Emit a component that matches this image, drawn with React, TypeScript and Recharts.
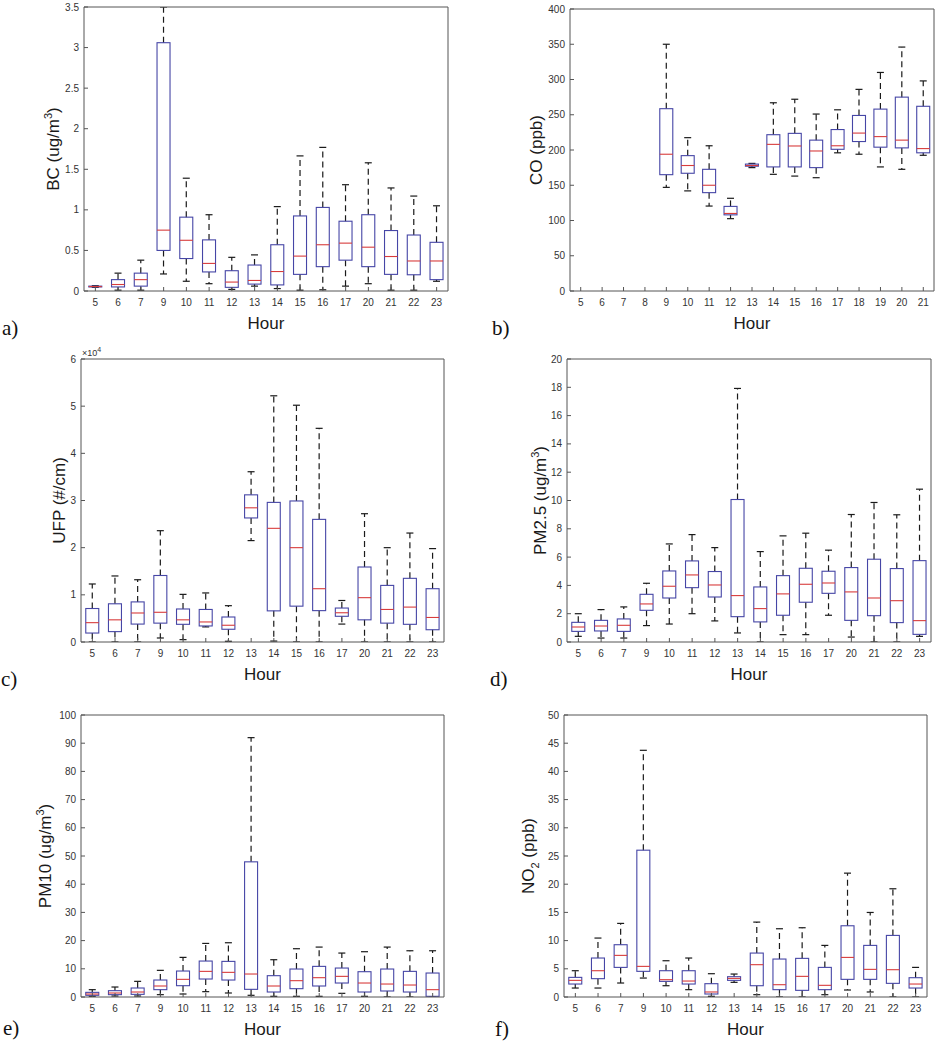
import { Bar, BarChart, XAxis, YAxis } from "recharts";

// hours shared by panels a, c, d, e, f
const hours = [5, 6, 7, 9, 10, 11, 12, 13, 14, 15, 16, 17, 20, 21, 22, 23];
const coHours = [5, 6, 7, 8, 9, 10, 11, 12, 13, 14, 15, 16, 17, 18, 19, 20, 21];

// a) BC
const bcMin = [0.045, 0.01, 0.01, 0.21, 0.12, 0.09, 0.02, 0.06, 0.03, 0.01, 0.015, 0.06, 0.09, 0.01, 0.01, 0.12];
const bcQ1 = [0.05, 0.05, 0.06, 0.5, 0.4, 0.235, 0.045, 0.085, 0.075, 0.205, 0.3, 0.38, 0.3, 0.205, 0.2, 0.14];
const bcMed = [0.055, 0.08, 0.14, 0.75, 0.625, 0.34, 0.11, 0.13, 0.24, 0.43, 0.57, 0.59, 0.54, 0.425, 0.37, 0.37];
const bcQ3 = [0.06, 0.14, 0.22, 3.06, 0.91, 0.63, 0.25, 0.32, 0.57, 0.925, 1.03, 0.86, 0.94, 0.745, 0.69, 0.6];
const bcMax = [0.065, 0.22, 0.38, 3.5, 1.39, 0.94, 0.415, 0.445, 1.04, 1.665, 1.77, 1.31, 1.58, 1.27, 1.17, 1.05];
const bcTicks = [0, 0.5, 1, 1.5, 2, 2.5, 3, 3.5];

// b) CO (no data 5-8)
const coMin = [null, null, null, null, 147, 142, 120.5, 102.6, 175, 165.5, 163, 160.7, 196, 194, 176, 172.6, 192.5];
const coQ1 = [null, null, null, null, 165, 167, 139.5, 108, 177, 176, 176, 175, 201, 212, 204, 203, 196];
const coMed = [null, null, null, null, 194, 178, 150, 110, 178, 208, 205.7, 198.6, 206, 224, 219, 214, 202];
const coQ3 = [null, null, null, null, 258.6, 192, 172.6, 120, 180, 221.7, 223.6, 214, 229, 249, 258, 275, 262];
const coMax = [null, null, null, null, 350, 217.5, 206, 131.5, 181, 267, 272, 251, 257, 286, 310, 346, 298];
const coTicks = [0, 50, 100, 150, 200, 250, 300, 350, 400];

// c) UFP
const ufpMin = [0, 0, 0, 850, 500, 3200, 150, 21500, 200, 0, 0, 3800, 0, 0, 0, 0];
const ufpQ1 = [1900, 2200, 3800, 4000, 3750, 3400, 2700, 26300, 6600, 7600, 6650, 5450, 4700, 4000, 3750, 2600];
const ufpMed = [4100, 4700, 6150, 6300, 4700, 4250, 3550, 28450, 24100, 20000, 11300, 6200, 9400, 6900, 7400, 5200];
const ufpQ3 = [7100, 8100, 8500, 14100, 7000, 6900, 5300, 31200, 29600, 29900, 26000, 7200, 15900, 12000, 13500, 11300];
const ufpMax = [12300, 14000, 13200, 23600, 10100, 10400, 7700, 36100, 52200, 50200, 45300, 8800, 27200, 20000, 23100, 19800];
const ufpTicks = [0, 10000, 20000, 30000, 40000, 50000, 60000];

// d) PM2.5
const pm25Min = [0.4, 0.28, 0.28, 1.16, 1.27, 2.0, 1.49, 0.64, 0, 0.52, 0.52, 1.89, 0.35, 0, 0, 0.4];
const pm25Q1 = [0.75, 0.78, 0.75, 2.24, 3.11, 3.84, 3.18, 1.79, 1.42, 1.89, 2.81, 3.44, 1.53, 1.86, 1.37, 0.54];
const pm25Med = [1.06, 1.13, 1.18, 2.69, 3.94, 4.74, 4.03, 3.28, 2.36, 3.4, 4.08, 4.17, 3.54, 3.11, 2.92, 1.51];
const pm25Q3 = [1.39, 1.53, 1.63, 3.37, 5.02, 5.73, 4.98, 10.07, 3.89, 4.69, 5.21, 5.0, 5.26, 5.85, 5.19, 5.75];
const pm25Max = [2.0, 2.29, 2.48, 4.15, 6.93, 7.59, 6.67, 17.92, 6.39, 7.5, 7.69, 6.49, 9.01, 9.86, 8.99, 10.8];
const pm25Ticks = [0, 2, 4, 6, 8, 10, 12, 14, 16, 18, 20];

// e) PM10
const pm10Min = [0.25, 0.35, 0.35, 0.83, 1.06, 1.89, 1.42, 0.6, 0.24, 0.24, 0.24, 1.3, 0.24, 0, 0, 0];
const pm10Q1 = [0.6, 0.83, 0.94, 2.6, 4.01, 6.38, 6.02, 2.72, 1.77, 2.95, 3.9, 4.96, 1.77, 2.13, 1.77, 0.24];
const pm10Med = [1.06, 1.42, 1.77, 3.9, 6.26, 9.09, 8.74, 8.15, 3.9, 5.79, 6.85, 7.32, 4.96, 4.6, 4.25, 2.6];
const pm10Q3 = [1.65, 2.24, 3.19, 6.02, 9.21, 12.75, 12.63, 47.93, 7.56, 9.92, 10.86, 10.27, 8.97, 9.92, 9.09, 8.5];
const pm10Max = [2.6, 3.54, 5.55, 9.45, 14.05, 19.0, 19.24, 91.97, 13.22, 17.12, 17.7, 15.58, 16.06, 17.7, 16.4, 16.4];
const pm10Ticks = [0, 10, 20, 30, 40, 50, 60, 70, 80, 90, 100];

// f) NO2
const no2Min = [1.59, 1.59, 2.48, 3.36, 2.0, 1.3, 0.12, 2.6, 0.41, 0, 0, 0.41, 1.24, 0.89, 0, 0];
const no2Q1 = [2.3, 3.25, 5.25, 4.55, 2.77, 2.3, 0.53, 2.95, 2.0, 1.3, 1.18, 1.3, 3.13, 3.13, 2.42, 1.59];
const no2Med = [2.95, 4.66, 7.38, 5.43, 3.07, 2.83, 0.89, 3.3, 5.73, 2.18, 3.66, 2.07, 7.02, 4.9, 4.84, 2.3];
const no2Q3 = [3.48, 6.91, 9.27, 26.03, 4.66, 4.66, 2.36, 3.6, 7.79, 6.73, 6.85, 5.25, 12.63, 9.15, 10.92, 3.42];
const no2Max = [4.66, 10.45, 13.05, 43.74, 6.43, 6.91, 4.13, 4.07, 13.28, 12.1, 12.28, 9.15, 21.96, 14.99, 19.19, 5.25];
const no2Ticks = [0, 5, 10, 15, 20, 25, 30, 35, 40, 45, 50];

const AXIS = "#555";
const TXT = "#333";
const BOX = "#4646a6";
const MEDIAN = "#d83c3c";
const WHISKER = "#1a1a1a";
const BOX_W = 13;
const CAP_W = 7;

type Num = number | null;
type YLabel = { pre: string; sup?: string; sub?: string; post: string };
type Panel = {
  letter: string;
  hours: number[];
  min: Num[];
  q1: Num[];
  med: Num[];
  q3: Num[];
  max: Num[];
  ticks: number[];
  fmt?: (v: number) => string;
  label: YLabel;
  exponent?: string;
  plot: { L: number; R: number; T: number; B: number };
  gap: number;
  letterPos: { left: number; top: number };
};

const panels: Panel[] = [
  {
    letter: "a)", hours, min: bcMin, q1: bcQ1, med: bcMed, q3: bcQ3, max: bcMax, ticks: bcTicks,
    label: { pre: "BC (ug/m", sup: "3", post: ")" },
    plot: { L: 84, R: 448, T: 7, B: 291 }, gap: 31, letterPos: { left: 2, top: 316 },
  },
  {
    letter: "b)", hours: coHours, min: coMin, q1: coQ1, med: coMed, q3: coQ3, max: coMax, ticks: coTicks,
    label: { pre: "CO (ppb)", post: "" },
    plot: { L: 570, R: 934, T: 9, B: 291 }, gap: 34, letterPos: { left: 492, top: 316 },
  },
  {
    letter: "c)", hours, min: ufpMin, q1: ufpQ1, med: ufpMed, q3: ufpQ3, max: ufpMax, ticks: ufpTicks,
    fmt: (v) => String(v / 10000), exponent: "4",
    label: { pre: "UFP (#/cm)", post: "" },
    plot: { L: 81, R: 444, T: 359, B: 642 }, gap: 22, letterPos: { left: 1, top: 667 },
  },
  {
    letter: "d)", hours, min: pm25Min, q1: pm25Q1, med: pm25Med, q3: pm25Q3, max: pm25Max, ticks: pm25Ticks,
    label: { pre: "PM2.5 (ug/m", sup: "3", post: ")" },
    plot: { L: 567, R: 931, T: 359, B: 642 }, gap: 27, letterPos: { left: 490, top: 667 },
  },
  {
    letter: "e)", hours, min: pm10Min, q1: pm10Q1, med: pm10Med, q3: pm10Q3, max: pm10Max, ticks: pm10Ticks,
    label: { pre: "PM10 (ug/m", sup: "3", post: ")" },
    plot: { L: 81, R: 444, T: 715, B: 997 }, gap: 36, letterPos: { left: 3, top: 1016 },
  },
  {
    letter: "f)", hours, min: no2Min, q1: no2Q1, med: no2Med, q3: no2Q3, max: no2Max, ticks: no2Ticks,
    label: { pre: "NO", sub: "2", post: " (ppb)" },
    plot: { L: 564, R: 927, T: 715, B: 997 }, gap: 36, letterPos: { left: 495, top: 1017 },
  },
];

function BoxShape(props: any) {
  const { x, y, width, height, payload } = props;
  if (!payload || payload.max == null || !height) return <g />;
  const top = Math.min(y, y + height);
  const span = Math.abs(height);
  const py = (v: number) => top + ((payload.max - v) / (payload.max - payload.min)) * span;
  const cx = x + width / 2;
  const yMax = py(payload.max);
  const yQ3 = py(payload.q3);
  const yMed = py(payload.med);
  const yQ1 = py(payload.q1);
  const yMin = py(payload.min);
  return (
    <g>
      <line x1={cx} x2={cx} y1={yQ3} y2={yMax} stroke={WHISKER} strokeWidth={1.2} strokeDasharray="6 4" />
      <line x1={cx} x2={cx} y1={yQ1} y2={yMin} stroke={WHISKER} strokeWidth={1.2} strokeDasharray="6 4" />
      <line x1={cx - CAP_W / 2} x2={cx + CAP_W / 2} y1={yMax} y2={yMax} stroke={WHISKER} strokeWidth={1.2} />
      <line x1={cx - CAP_W / 2} x2={cx + CAP_W / 2} y1={yMin} y2={yMin} stroke={WHISKER} strokeWidth={1.2} />
      <rect x={cx - BOX_W / 2} y={yQ3} width={BOX_W} height={Math.max(yQ1 - yQ3, 0.5)} fill="none" stroke={BOX} strokeWidth={1.1} />
      <line x1={cx - BOX_W / 2} x2={cx + BOX_W / 2} y1={yMed} y2={yMed} stroke={MEDIAN} strokeWidth={1.1} />
    </g>
  );
}

const hourLabel = (props: any) => {
  const vb = props.viewBox;
  return (
    <text x={vb.x + vb.width / 2} y={vb.y + 38} textAnchor="middle" fontSize={17} fill="#1a1a1a">
      Hour
    </text>
  );
};

function BoxPanel({ p }: { p: Panel }) {
  const pad = { l: 80, r: 6, t: 16, b: 45 };
  const w = p.plot.R - p.plot.L + pad.l + pad.r;
  const h = p.plot.B - p.plot.T + pad.t + pad.b;
  const yMax = p.ticks[p.ticks.length - 1];
  const data = p.hours.map((hr, i) => ({
    hour: String(hr),
    range: p.max[i] == null ? null : [p.min[i], p.max[i]],
    min: p.min[i],
    q1: p.q1[i],
    med: p.med[i],
    q3: p.q3[i],
    max: p.max[i],
  }));

  const yLabel = (props: any) => {
    const vb = props.viewBox;
    const px = vb.x + vb.width - p.gap;
    const py = vb.y + vb.height / 2;
    const lb = p.label;
    return (
      <g>
        <text transform={`translate(${px},${py}) rotate(-90)`} y={6} textAnchor="middle" fontSize={17} fill="#1a1a1a">
          <tspan>{lb.pre}</tspan>
          {lb.sup && <tspan dy={-7} fontSize={11}>{lb.sup}</tspan>}
          {lb.sub && <tspan dy={5} fontSize={11}>{lb.sub}</tspan>}
          {(lb.sup || lb.sub) && <tspan dy={lb.sup ? 7 : -5}>{lb.post}</tspan>}
          {!lb.sup && !lb.sub && lb.post && <tspan>{lb.post}</tspan>}
        </text>
        {p.exponent && (
          <text x={vb.x + vb.width + 1} y={vb.y - 3} fontSize={9} fill={TXT}>
            ×10<tspan dy={-4} fontSize={7}>{p.exponent}</tspan>
          </text>
        )}
      </g>
    );
  };

  return (
    <div style={{ position: "absolute", left: p.plot.L - pad.l, top: p.plot.T - pad.t }}>
      <BarChart
        width={w}
        height={h}
        data={data}
        margin={{ top: pad.t - 4, right: pad.r - 4, bottom: pad.b - 40, left: pad.l - 40 }}
      >
        <XAxis
          xAxisId="b"
          dataKey="hour"
          interval={0}
          height={40}
          tickSize={-4}
          tickMargin={12}
          stroke={AXIS}
          tick={{ fontSize: 10, fill: TXT }}
          label={hourLabel}
        />
        <XAxis xAxisId="t" dataKey="hour" orientation="top" interval={0} height={4} tickSize={-4} tick={false} stroke={AXIS} />
        <YAxis
          yAxisId="l"
          type="number"
          domain={[0, yMax]}
          ticks={p.ticks}
          allowDataOverflow
          width={40}
          tickSize={-4}
          tickMargin={9}
          stroke={AXIS}
          tick={{ fontSize: 10, fill: TXT }}
          tickFormatter={p.fmt}
          label={yLabel}
        />
        <YAxis
          yAxisId="r"
          orientation="right"
          type="number"
          domain={[0, yMax]}
          ticks={p.ticks}
          allowDataOverflow
          width={4}
          tickSize={-4}
          tick={false}
          stroke={AXIS}
        />
        <Bar xAxisId="b" yAxisId="l" dataKey="range" shape={BoxShape} isAnimationActive={false} />
      </BarChart>
    </div>
  );
}

export default function App() {
  return (
    <div
      style={{
        position: "relative",
        width: 938,
        height: 1050,
        overflow: "hidden",
        background: "#fff",
        fontFamily: "'Liberation Sans', Arial, sans-serif",
      }}
    >
      <style>{"body{margin:0}"}</style>
      {panels.map((p) => (
        <BoxPanel key={p.letter} p={p} />
      ))}
      {panels.map((p) => (
        <div
          key={"l" + p.letter}
          style={{
            position: "absolute",
            left: p.letterPos.left,
            top: p.letterPos.top,
            fontFamily: "'Liberation Serif', 'Times New Roman', serif",
            fontSize: 21,
            lineHeight: "24px",
            color: "#111",
          }}
        >
          {p.letter}
        </div>
      ))}
    </div>
  );
}
